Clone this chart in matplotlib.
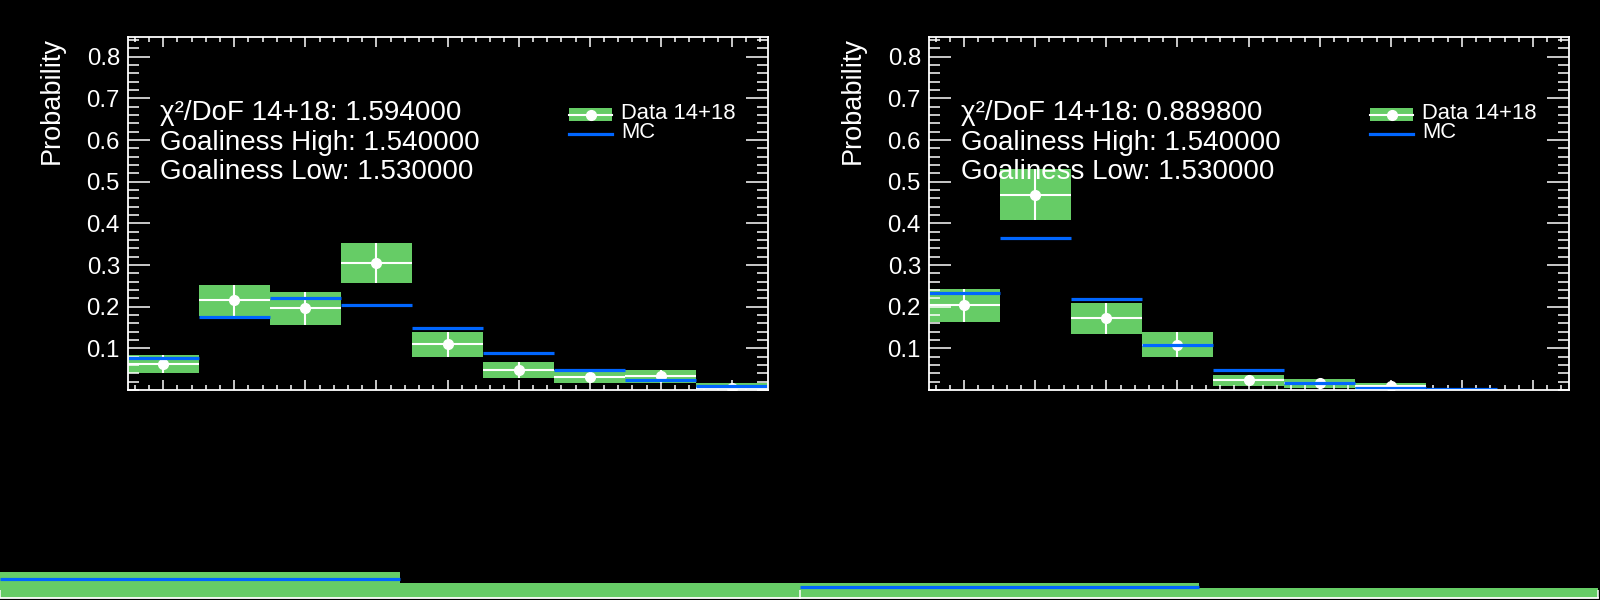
import numpy as np
import matplotlib
matplotlib.use("Agg")
import matplotlib.pyplot as plt
from matplotlib.patches import Rectangle
from matplotlib.lines import Line2D
from matplotlib.ticker import MultipleLocator, FixedLocator

plt.rcParams['font.family'] = ['Liberation Sans', 'DejaVu Sans']

# ---------------- data ----------------
bins = np.arange(9)  # bin centres 0..8

# left panel
data_left = [0.063, 0.215, 0.196, 0.305, 0.110, 0.048, 0.032, 0.033, 0.006]
err_left = [0.021, 0.037, 0.039, 0.048, 0.030, 0.019, 0.015, 0.015, 0.010]
mc_left = [0.078, 0.175, 0.221, 0.203, 0.148, 0.090, 0.047, 0.023, 0.009]

# right panel
data_right = [0.203, 0.469, 0.172, 0.109, 0.023, 0.016, 0.009, np.nan, np.nan]
err_right = [0.039, 0.061, 0.038, 0.030, 0.013, 0.010, 0.008, np.nan, np.nan]
mc_right = [0.232, 0.366, 0.218, 0.108, 0.047, 0.017, 0.006, 0.003, np.nan]

chi2_texts = ["1.594000", "0.889800"]
goal_high = "1.540000"
goal_low = "1.530000"

# lower strip (partially visible lower pads)
strip_left_band = [0.684, 0.395]
strip_left_mc = [0.49, np.nan]
strip_right_band = [0.395, 0.26]
strip_right_mc = [0.28, np.nan]

ytick_vals = [0.1, 0.2, 0.3, 0.4, 0.5, 0.6, 0.7, 0.8]

GREEN = '#66cc66'
BLUE = '#0066ff'
W = 1600.0
H = 600.0

fig = plt.figure(figsize=(16, 6), dpi=100, facecolor='black')


def px_rect(x0, y0top, x1, y1bot):
    return [x0 / W, 1 - y1bot / H, (x1 - x0) / W, (y1bot - y0top) / H]


def draw_panel(rect, data, err, mc, chi2):
    ax = fig.add_axes(rect)
    ax.set_facecolor('black')
    data = np.asarray(data, float)
    err = np.asarray(err, float)
    mc = np.asarray(mc, float)
    ax.bar(bins, 2 * err, bottom=data - err, width=1.0, color=GREEN,
           linewidth=0, zorder=1)
    ax.errorbar(bins, data, xerr=0.5, yerr=err, fmt='o', color='white',
                ms=7, elinewidth=1.5, capsize=0, zorder=3)
    ax.hlines(mc, bins - 0.5, bins + 0.5, color=BLUE, lw=2.3, zorder=4)

    ax.set_xlim(-0.5, 8.5)
    ax.set_ylim(0, 0.848)
    ax.xaxis.set_major_locator(FixedLocator(bins))
    ax.xaxis.set_minor_locator(MultipleLocator(0.2))
    ax.set_yticks(ytick_vals)
    ax.set_yticklabels([f"{v:.1f}" for v in ytick_vals])
    ax.yaxis.set_minor_locator(MultipleLocator(0.02))
    ax.tick_params(axis='both', which='both', direction='in', colors='white',
                   top=True, right=True, width=1.1)
    ax.tick_params(axis='x', which='major', length=7.2, labelbottom=False)
    ax.tick_params(axis='x', which='minor', length=3.6)
    ax.tick_params(axis='y', which='major', length=16, labelsize=17.3, pad=5.5)
    ax.tick_params(axis='y', which='minor', length=8)
    for s in ax.spines.values():
        s.set_color('white')
        s.set_linewidth(1.3)
        s.set_zorder(5)

    # y title
    ax.text(-0.139, 1.0, 'Probability', rotation=90, ha='left', va='top',
            color='white', fontsize=19.5, transform=ax.transAxes)

    # stats text
    lines = [f"\u03c7\u00b2/DoF 14+18: {chi2}",
             f"Goaliness High: {goal_high}",
             f"Goaliness Low: {goal_low}"]
    ypix = [120, 149.5, 179.3]
    for t, yp in zip(lines, ypix):
        ax.text(0.05, (390 - yp) / 353.3, t, color='white', fontsize=20,
                ha='left', va='baseline', transform=ax.transAxes, zorder=10)

    # legend (manual, ROOT style)
    def fx(xp):
        return (xp - 127.6) / 640.0

    def fy(yp):
        return (390 - yp) / 353.3

    ax.add_patch(Rectangle((fx(569), fy(121)), fx(612) - fx(569), fy(108) - fy(121),
                           transform=ax.transAxes, facecolor=GREEN, lw=0,
                           clip_on=False, zorder=6))
    ax.add_line(Line2D([fx(569), fx(612)], [fy(115), fy(115)], color='white',
                       lw=1.5, transform=ax.transAxes, zorder=7))
    ax.add_line(Line2D([fx(590.5)], [fy(115)], color='white', marker='o',
                       ms=7, lw=0, transform=ax.transAxes, zorder=7))
    ax.add_line(Line2D([fx(569), fx(612)], [fy(134.3), fy(134.3)], color=BLUE,
                       lw=2.3, transform=ax.transAxes, zorder=7))
    ax.text(fx(621), fy(119), 'Data 14+18', color='white', fontsize=15.8,
            ha='left', va='baseline', transform=ax.transAxes, zorder=8)
    ax.text(fx(621), fy(138.3), 'MC', color='white', fontsize=15.8,
            ha='left', va='baseline', transform=ax.transAxes, zorder=8)
    return ax


draw_panel(px_rect(127.6, 36.7, 767.6, 390), data_left, err_left, mc_left, chi2_texts[0])
draw_panel(px_rect(928.6, 36.7, 1568.6, 390), data_right, err_right, mc_right, chi2_texts[1])


def draw_strip(rect, band, mc, ticks):
    ax = fig.add_axes(rect)
    ax.set_facecolor('none')
    x = np.arange(len(band)) + 0.5
    ax.bar(x, band, width=1.0, color=GREEN, linewidth=0)
    mc = np.asarray(mc, float)
    ax.hlines(mc, x - 0.5, x + 0.5, color=BLUE, lw=2.3)
    ax.set_xlim(0, 2)
    ax.set_ylim(0, 1)
    for k in ['top', 'left', 'right']:
        ax.spines[k].set_visible(False)
    ax.spines['bottom'].set_color('white')
    ax.spines['bottom'].set_linewidth(1.3)
    ax.set_xticks(ticks)
    ax.set_yticks([])
    ax.tick_params(axis='x', direction='in', colors='white', length=6,
                   width=1.1, labelbottom=False)
    return ax


draw_strip(px_rect(0, 560, 800, 598), strip_left_band, strip_left_mc, [0])
draw_strip(px_rect(800, 560, 1598, 598), strip_right_band, strip_right_mc, [0, 2])

fig.savefig('out.png', dpi=100, facecolor='black')
